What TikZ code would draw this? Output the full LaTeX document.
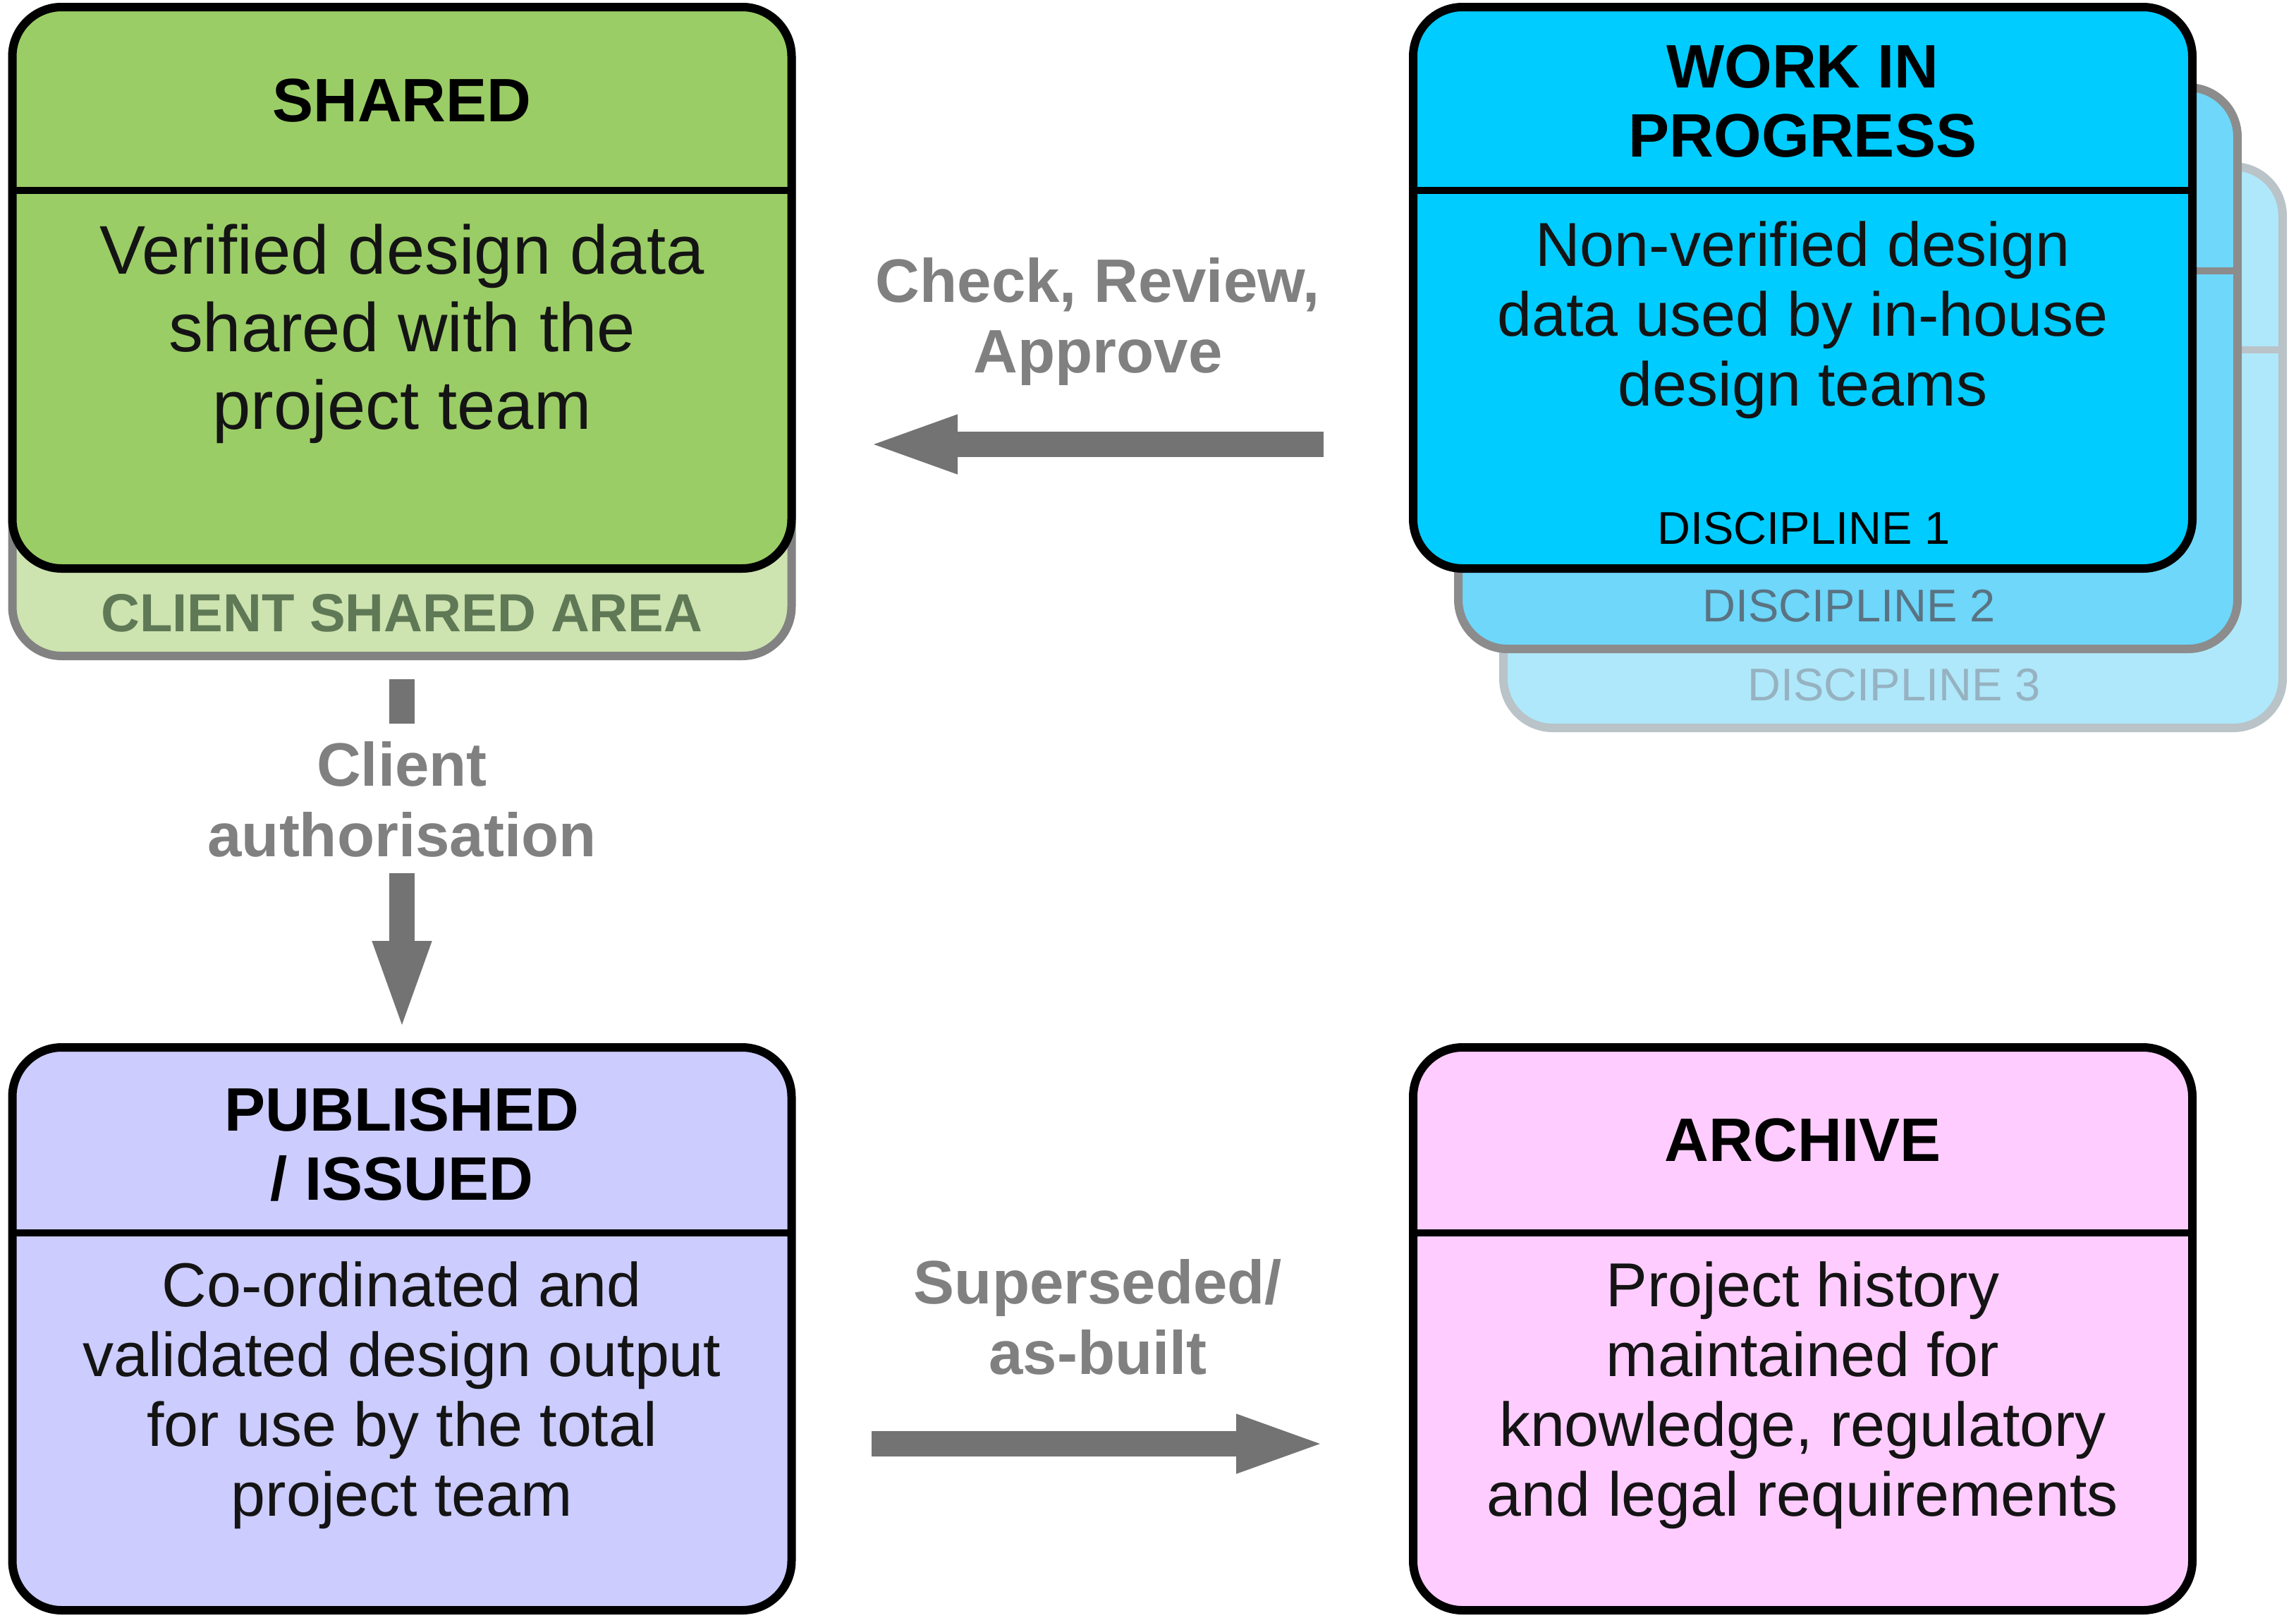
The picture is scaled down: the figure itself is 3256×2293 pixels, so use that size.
\documentclass[tikz,border=0pt]{standalone}
\usepackage{fontspec}
\setmainfont{Liberation Sans}
\usetikzlibrary{arrows.meta}
\definecolor{sharedgreen}{RGB}{155,205,102}
\definecolor{clientgreen}{RGB}{205,227,176}
\definecolor{clienttext}{RGB}{95,120,85}
\definecolor{clientedge}{RGB}{130,130,130}
\definecolor{wipblue}{RGB}{0,204,255}
\definecolor{dtwoblue}{RGB}{110,215,250}
\definecolor{dthreeblue}{RGB}{175,232,250}
\definecolor{dtwoedge}{RGB}{140,140,140}
\definecolor{dthreeedge}{RGB}{185,195,200}
\definecolor{dtwotext}{RGB}{90,115,130}
\definecolor{dthreetext}{RGB}{150,178,192}
\definecolor{pubblue}{RGB}{204,204,255}
\definecolor{archpink}{RGB}{255,204,255}
\definecolor{arrowgray}{RGB}{115,115,115}
\definecolor{labelgray}{RGB}{128,128,128}
\definecolor{bodyblack}{RGB}{20,20,20}
\begin{document}
\begin{tikzpicture}[x=0.25pt,y=-0.25pt,
  box/.style={rectangle,draw=black,line width=3pt,rounded corners=17.5pt,inner sep=0pt,outer sep=0pt,
    minimum width=276.25pt,minimum height=199pt},
  divider/.style={line width=2.5pt},
  titletext/.style={font=\bfseries\fontsize{21.75pt}{24.5pt}\selectfont,align=center,text=black,inner sep=0pt},
  bodytext/.style={font=\fontsize{22pt}{24.75pt}\selectfont,align=center,text=bodyblack,inner sep=0pt},
  bigbodytext/.style={font=\fontsize{24.4pt}{27.5pt}\selectfont,align=center,text=bodyblack,inner sep=0pt},
  labeltext/.style={font=\bfseries\fontsize{21.75pt}{25pt}\selectfont,align=center,text=labelgray,inner sep=0pt},
  disctext/.style={font=\fontsize{16.25pt}{19pt}\selectfont,inner sep=0pt},
  flow/.style={draw=arrowgray,line width=9pt,-{Triangle[width=18.25pt,length=33pt]}},
  vstub/.style={draw=arrowgray,line width=9pt}
]
\useasboundingbox (0,0) rectangle (3256,2293);

% ---- Shared / client shared area ----
\node[box,draw=clientedge,fill=clientgreen,minimum height=230pt] (client) at (570,470) {};
\node[box,fill=sharedgreen] (shared) at (570,408) {};
\draw[divider] (shared.north west) ++(0,260) -- ++(1105,0);
\node[titletext] (sharedtitle) at (570,143) {SHARED};
\node[bigbodytext] (sharedbody) at (570,473) {Verified design data\\shared with the\\project team};
\node[font=\bfseries\fontsize{19pt}{22pt}\selectfont,text=clienttext,inner sep=0pt] (clientlabel) at (570,869) {CLIENT SHARED AREA};

% ---- Work in progress stack ----
\node[box,draw=dthreeedge,fill=dthreeblue] (d3) at (2684.5,634) {};
\draw[divider,draw=dthreeedge] (d3.north west) ++(0,260) -- ++(1105,0);
\node[disctext,text=dthreetext] (d3label) at (2686,971) {DISCIPLINE 3};
\node[box,draw=dtwoedge,fill=dtwoblue] (d2) at (2620.5,522) {};
\draw[divider,draw=dtwoedge] (d2.north west) ++(0,260) -- ++(1105,0);
\node[disctext,text=dtwotext] (d2label) at (2622,859) {DISCIPLINE 2};
\node[box,fill=wipblue] (wip) at (2556.5,408) {};
\draw[divider] (wip.north west) ++(0,260) -- ++(1105,0);
\node[titletext] (wiptitle) at (2556.5,144) {WORK IN\\PROGRESS};
\node[bodytext] (wipbody) at (2556.5,454) {Non-verified design\\data used by in-house\\design teams};
\node[disctext,text=black] (d1label) at (2558,749) {DISCIPLINE 1};

% ---- Published / issued ----
\node[box,fill=pubblue,minimum height=199.5pt] (pub) at (570,1884) {};
\draw[divider] (pub.north west) ++(0,263) -- ++(1105,0);
\node[titletext] (pubtitle) at (570,1623) {PUBLISHED\\/ ISSUED};
\node[bodytext] (pubbody) at (570,1978) {Co-ordinated and\\validated design output\\for use by the total\\project team};

% ---- Archive ----
\node[box,fill=archpink,minimum height=199.5pt] (arch) at (2556.5,1884) {};
\draw[divider] (arch.north west) ++(0,263) -- ++(1105,0);
\node[titletext] (archtitle) at (2556.5,1617) {ARCHIVE};
\node[bodytext] (archbody) at (2556.5,1978) {Project history\\maintained for\\knowledge, regulatory\\and legal requirements};

% ---- Flows ----
\coordinate (chkfrom) at (1877,630);
\coordinate (chkto) at (1226,630);
\draw[flow] (chkfrom) -- (chkto);
\node[labeltext] (chklabel) at (1557,456) {Check, Review,\\Approve};

\coordinate (supfrom) at (1236,2047);
\coordinate (supto) at (1885,2047);
\draw[flow] (supfrom) -- (supto);
\node[labeltext] (suplabel) at (1557,1867) {Superseded/\\as-built};

\coordinate (authstubA) at (570,963);
\coordinate (authstubB) at (570,1026);
\draw[vstub] (authstubA) -- (authstubB);
\coordinate (authfrom) at (570,1238);
\coordinate (authto) at (570,1466);
\draw[flow] (authfrom) -- (authto);
\node[labeltext] (authlabel) at (570,1133) {Client\\authorisation};
\end{tikzpicture}
\end{document}
